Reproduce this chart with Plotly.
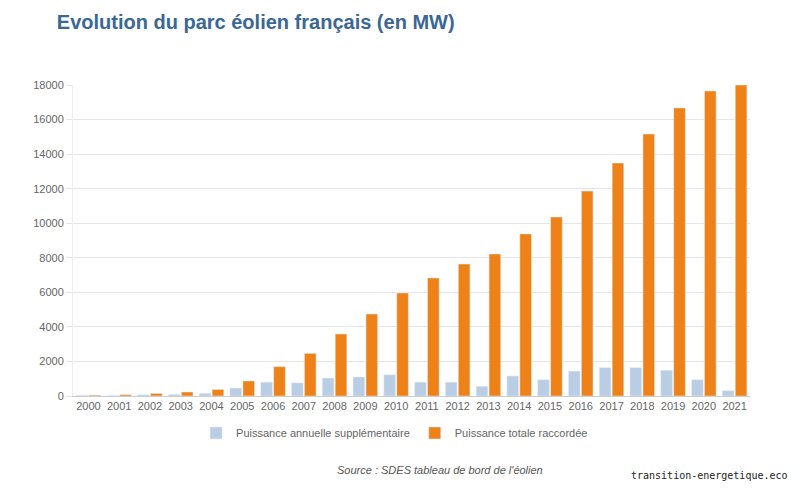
import plotly.graph_objects as go

years = [str(y) for y in range(2000, 2022)]

# Puissance annuelle supplémentaire (MW)
annuelle = [40, 20, 70, 90, 150, 460, 800, 760, 1040, 1100, 1230, 800,
            800, 560, 1160, 940, 1440, 1640, 1640, 1490, 940, 310]

# Puissance totale raccordée (MW)
totale = [50, 80, 150, 230, 380, 870, 1700, 2470, 3590, 4740, 5960, 6830,
          7640, 8220, 9380, 10360, 11860, 13480, 15160, 16670, 17650, 18000]

fig = go.Figure()
fig.add_trace(go.Bar(x=years, y=annuelle, name="Puissance annuelle supplémentaire",
                     marker_color="#b9cde5"))
fig.add_trace(go.Bar(x=years, y=totale, name="Puissance totale raccordée",
                     marker_color="#ee8218"))

fig.update_layout(
    width=800, height=490,
    margin=dict(l=65, r=58, t=77, b=102),
    paper_bgcolor="white", plot_bgcolor="white",
    font=dict(family="Liberation Sans, Arial, sans-serif", size=11, color="#666666"),
    title=dict(text="<b>Evolution du parc éolien français (en MW)</b>",
               x=0.061, xanchor="left", y=0.971, yanchor="middle",
               font=dict(size=20, color="#3a6796")),
    barmode="group", bargap=0.16, bargroupgap=0.1,
    showlegend=True,
    legend=dict(orientation="h", x=0.475, xanchor="center", y=-0.119, yanchor="middle",
                font=dict(size=11, color="#666666"), itemwidth=30),
    xaxis=dict(showline=True, linecolor="#cccccc", ticks="", tickfont=dict(size=11),
               showgrid=False),
    yaxis=dict(range=[0, 18000], dtick=2000, tickformat="d", showgrid=True,
               gridcolor="#e6e6e6", showline=True, linecolor="#eeeeee",
               ticks="outside", ticklen=6, tickcolor="#e6e6e6", zeroline=False,
               tickfont=dict(size=11)),
)

fig.add_annotation(text="<i>Source : SDES tableau de bord de l'éolien</i>",
                   xref="paper", yref="paper", x=0.542, y=-0.264,
                   showarrow=False, font=dict(size=11, color="#555555"))
fig.add_annotation(text="transition-energetique.eco",
                   xref="paper", yref="paper", x=1.059, y=-0.28, xanchor="right",
                   showarrow=False,
                   font=dict(family="DejaVu Sans Mono, monospace", size=10, color="#222222"))

fig.write_html("out.html")
